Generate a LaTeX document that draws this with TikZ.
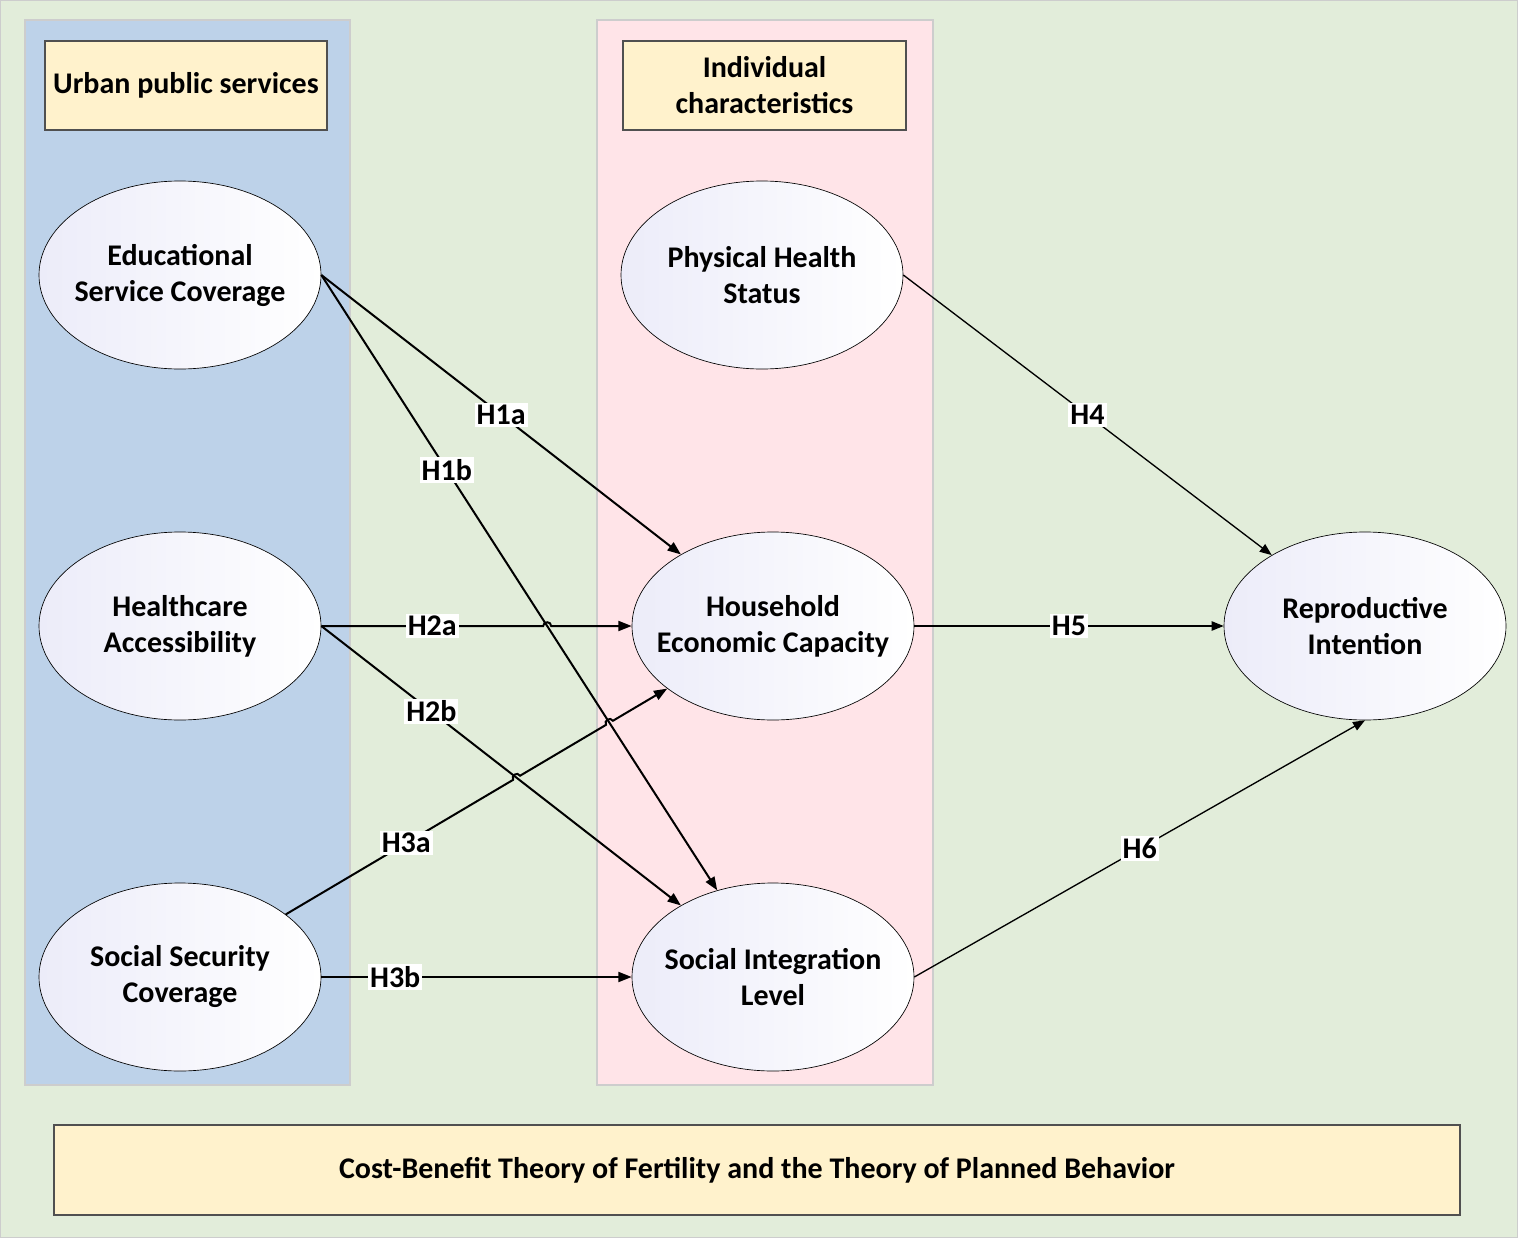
\documentclass[tikz,border=0pt]{standalone}
\usepackage{fontspec}
\setmainfont{Carlito}
\usetikzlibrary{arrows.meta,calc,intersections,shapes.geometric}
\definecolor{bgG}{RGB}{226,237,218}
\definecolor{panB}{RGB}{189,210,233}
\definecolor{panP}{RGB}{255,228,232}
\definecolor{boxY}{RGB}{255,242,204}
\definecolor{lav}{RGB}{236,236,249}
\definecolor{edgeG}{RGB}{205,205,205}
\definecolor{boxE}{RGB}{80,80,80}
\begin{document}
\begin{tikzpicture}[x=0.75pt,y=-0.75pt,
  txt/.style={font=\fontsize{22.5}{27}\selectfont\bfseries, align=center},
  bubble/.style={ellipse, draw=black, line width=0.5pt, minimum width=211.5pt, minimum height=141pt, inner xsep=-25pt, inner ysep=0pt, txt, left color=lav, right color=white},
  tbox/.style={rectangle, draw=boxE, line width=0.8pt, fill=boxY, inner sep=0pt, txt},
  lbl/.style={fill=white, inner sep=1.5pt, txt},
  arrL/.style={line width=1.5pt, -{Triangle[length=10pt,width=7.5pt]}},
  arrR/.style={line width=1pt, -{Triangle[length=9pt,width=7pt]}},
  hop/.style={bend left=90, looseness=1.6}]
% background and panels
\fill[white] (0,0) rectangle (1518,1238);
\draw[fill=bgG, draw=edgeG, line width=1pt] (0.7,0.7) rectangle (1517.3,1237.3);
\draw[fill=panB, draw=edgeG, line width=0.8pt] (25,20) rectangle (350,1085);
\draw[fill=panP, draw=edgeG, line width=0.8pt] (597,20) rectangle (933,1085);
% title boxes
\node[tbox, minimum width=211.5pt, minimum height=66.75pt] (ups) at (186,85.5) {Urban public services};
\node[tbox, minimum width=212.25pt, minimum height=66.75pt] (ich) at (764.5,85.5) {Individual\\characteristics};
\node[tbox, minimum width=1054.5pt, minimum height=67.5pt] (cbt) at (757,1170) {Cost-Benefit Theory of Fertility and the Theory of Planned Behavior};
% ellipses
\node[bubble] (edu) at (180,275) {Educational\\Service Coverage};
\node[bubble] (hc) at (180,626) {Healthcare\\Accessibility};
\node[bubble] (ss) at (180,977) {Social Security\\Coverage};
\node[bubble] (ph) at (762,275) {Physical Health\\Status};
\node[bubble] (hh) at (773,626) {Household\\Economic Capacity};
\node[bubble] (si) at (773,977) {Social Integration\\Level};
\node[bubble] (rep) at (1365,626) {Reproductive\\Intention};
% crossing points
\path[name path=p1b] (edu.east) -- (si);
\path[name path=p2a] (hc.east) -- (hh.west);
\path[name path=p2b] (hc.east) -- (si);
\path[name path=p3a] (ss) -- (hh);
\path[name intersections={of=p1b and p2a, by=xa}];
\path[name intersections={of=p1b and p3a, by=xb}];
\path[name intersections={of=p2b and p3a, by=xc}];
% connectors
\draw[arrL] (edu.east) -- node[lbl, pos=0.5] (l1a) {H1a} (hh);
\draw[arrL] (edu.east) -- node[lbl, pos=0.317] (l1b) {H1b} (si);
\draw[arrL] (hc.east) -- node[lbl, pos=0.5] (l2a) {H2a} ($(xa)!3pt!(hc.east)$) to[hop] ($(xa)!3pt!(hh.west)$) -- (hh.west);
\draw[arrL] (hc.east) -- node[lbl, pos=0.306] (l2b) {H2b} (si);
\draw[arrL] (ss) -- node[lbl, pos=0.53] (l3a) {H3a} ($(xc)!3pt!(ss)$) to[hop] ($(xc)!3pt!(hh)$) -- ($(xb)!3pt!(ss)$) to[hop] ($(xb)!3pt!(hh)$) -- (hh);
\draw[arrL] (ss.east) -- node[lbl, pos=0.238] (l3b) {H3b} (si.west);
\draw[arrR] (ph.east) -- node[lbl, pos=0.5] (l4) {H4} (rep);
\draw[arrR] (hh.east) -- node[lbl, pos=0.5] (l5) {H5} (rep.west);
\draw[arrR] (si.east) -- node[lbl, pos=0.5] (l6) {H6} (rep.south);
\end{tikzpicture}
\end{document}
